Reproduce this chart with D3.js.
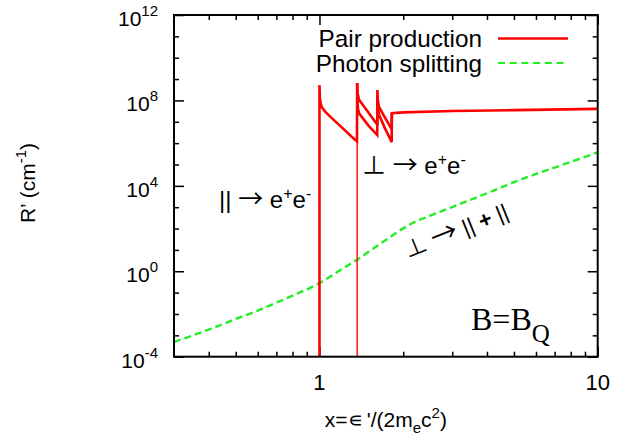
<!DOCTYPE html>
<html>
<head>
<meta charset="utf-8">
<script src="https://cdn.jsdelivr.net/npm/d3@7"></script>
<style>
  body { margin: 0; background: #fff; }
  svg { display: block; }
  text { font-family: "Liberation Sans", Arial, Helvetica, sans-serif; fill: #000; }
</style>
</head>
<body>
<svg id="chart" width="630" height="439"></svg>
<script>
// Pair production rate, parallel polarisation (x = photon energy / 2mc^2, R' in cm^-1)
const parX = [1.000, 1.000, 1.003, 1.010, 1.020, 1.048, 1.10, 1.20, 1.30, 1.364,
              1.366, 1.370, 1.389, 1.45, 1.60, 1.613,
              1.615, 1.620, 1.635, 1.72, 1.818,
              1.82, 2.0, 3.0, 5.0, 10.0];
const parR = [1e-6, 5.2e8, 1.4e8, 7.1e7, 4.8e7, 3.0e7, 1.6e7, 5.6e6, 2.1e6, 1.2e6,
              6.6e8, 2.2e8, 1.05e8, 4.9e7, 8.5e6, 7.9e6,
              3.1e8, 1.1e8, 5.1e7, 1.55e7, 4.5e6,
              2.5e7, 2.75e7, 3.2e7, 3.5e7, 4.0e7];

// Pair production rate, perpendicular polarisation
const perpX = [1.366, 1.366, 1.369, 1.375, 1.39, 1.50, 1.613,
               1.615, 1.620, 1.640, 1.72, 1.818, 1.82];
const perpR = [1e-6, 6.6e8, 1.0e8, 4.0e7, 2.4e7, 6.6e6, 2.4e6,
               1.6e8, 5.0e7, 2.0e7, 4.9e6, 1.12e6, 2.5e7];

// Photon splitting rate
const splitX = [0.3, 0.4, 0.5, 0.6, 0.7, 0.8, 1.0, 1.2, 1.366, 1.6, 1.8,
                2.0, 2.2, 2.5, 3.0, 4.0, 5.0, 6.0, 7.0, 8.0, 10.0];
const splitR = [4.9e-4, 1.86e-3, 5.8e-3, 1.45e-2, 3.4e-2, 7.2e-2, 0.28, 1.23, 3.5, 14.5, 41,
                102, 204, 400, 1.02e3, 4.5e3, 1.48e4, 3.6e4, 7.2e4, 1.32e5, 3.7e5];

// Axis ticks
const xMajorTicks = [1, 10];
const xMajorLabels = ["1", "10"];
const xMinorTicks = [0.4, 0.5, 0.6, 0.7, 0.8, 0.9, 2, 3, 4, 5, 6, 7, 8, 9];
const yMajorExponents = [-4, 0, 4, 8, 12];
const yMinorExponents = [-3, -2, -1, 1, 2, 3, 5, 6, 7, 9, 10, 11];

const legendLabels = ["Pair production", "Photon splitting"];

const plot = { left: 174, right: 597.7, top: 15, bottom: 356.7 };
const red = "#ff0000", green = "#22ee22";
const symbolFont = "'Noto Sans CJK JP', 'DejaVu Sans', sans-serif";

const svg = d3.select("#chart");
const x = d3.scaleLog().domain([0.3, 10]).range([plot.left, plot.right]);
const y = d3.scaleLog().domain([1e-4, 1e12]).range([plot.bottom, plot.top]);

svg.append("defs").append("clipPath").attr("id", "plotClip")
  .append("rect")
  .attr("x", plot.left).attr("y", plot.top)
  .attr("width", plot.right - plot.left).attr("height", plot.bottom - plot.top);

// ---- ticks (inward on all four sides) ----
function tickAxis(axisFn, scale, values, size, transform) {
  const g = svg.append("g").attr("transform", transform)
    .call(axisFn(scale).tickValues(values).tickSize(-size).tickSizeOuter(0).tickFormat(""));
  g.select(".domain").remove();
  g.selectAll(".tick line").attr("stroke", "#000").attr("stroke-width", 1.5);
}
const yMajor = yMajorExponents.map(e => Math.pow(10, e));
const yMinor = yMinorExponents.map(e => Math.pow(10, e));
tickAxis(d3.axisBottom, x, xMajorTicks, 10, `translate(0,${plot.bottom})`);
tickAxis(d3.axisBottom, x, xMinorTicks, 5, `translate(0,${plot.bottom})`);
tickAxis(d3.axisTop, x, xMajorTicks, 10, `translate(0,${plot.top})`);
tickAxis(d3.axisTop, x, xMinorTicks, 5, `translate(0,${plot.top})`);
tickAxis(d3.axisLeft, y, yMajor, 10, `translate(${plot.left},0)`);
tickAxis(d3.axisLeft, y, yMinor, 5, `translate(${plot.left},0)`);
tickAxis(d3.axisRight, y, yMajor, 10, `translate(${plot.right},0)`);
tickAxis(d3.axisRight, y, yMinor, 5, `translate(${plot.right},0)`);

// ---- data curves ----
const lineGen = d3.line().x(d => x(d[0])).y(d => y(d[1]));
const curves = svg.append("g").attr("clip-path", "url(#plotClip)");

const splitPts = d3.zip(splitX, splitR);
curves.append("path")
  .attr("d", d3.line().x(d => x(d[0])).y(d => y(d[1])).curve(d3.curveMonotoneX)(splitPts))
  .attr("fill", "none").attr("stroke", green).attr("stroke-width", 2.4)
  .attr("stroke-dasharray", "7,4");

const parPts = d3.zip(parX, parR);
curves.append("path").attr("d", lineGen(parPts))
  .attr("fill", "none").attr("stroke", red).attr("stroke-width", 2.6);

const perpPts = d3.zip(perpX, perpR);
// threshold rise of the perpendicular mode
curves.append("path").attr("d", lineGen(perpPts.slice(0, 2)))
  .attr("fill", "none").attr("stroke", red).attr("stroke-width", 1.4);
curves.append("path").attr("d", lineGen(perpPts.slice(1)))
  .attr("fill", "none").attr("stroke", red).attr("stroke-width", 2.6);

// ---- frame ----
svg.append("rect")
  .attr("x", plot.left).attr("y", plot.top)
  .attr("width", plot.right - plot.left).attr("height", plot.bottom - plot.top)
  .attr("fill", "none").attr("stroke", "#000").attr("stroke-width", 2);

// ---- tick labels ----
svg.append("g").selectAll("text").data(xMajorTicks).join("text")
  .attr("x", d => x(d)).attr("y", 390)
  .attr("text-anchor", "middle").attr("font-size", 22)
  .text((d, i) => xMajorLabels[i]);

const yl = svg.append("g").selectAll("text").data(yMajorExponents).join("text")
  .attr("x", 158).attr("y", d => y(Math.pow(10, d)) + 11)
  .attr("text-anchor", "end").attr("font-size", 21);
yl.append("tspan").text("10");
yl.append("tspan").attr("dy", -10).attr("font-size", 15).text(d => String(d));

// ---- axis titles ----
const xt = svg.append("text").attr("x", (plot.left + plot.right) / 2).attr("y", 427)
  .attr("text-anchor", "middle").attr("font-size", 21);
xt.append("tspan").text("x=\u220A\u2009'/(2m");
xt.append("tspan").attr("dy", 6).attr("font-size", 15).text("e");
xt.append("tspan").attr("dy", -6).text("c");
xt.append("tspan").attr("dy", -9).attr("font-size", 15).text("2");
xt.append("tspan").attr("dy", 9).text(")");

const ytl = svg.append("text").attr("transform", "translate(35,183) rotate(-90)")
  .attr("text-anchor", "middle").attr("font-size", 21);
ytl.append("tspan").text("R\u2019 (cm");
ytl.append("tspan").attr("dy", -9).attr("font-size", 15).text("-1");
ytl.append("tspan").attr("dy", 9).text(")");

// ---- legend ----
const legendY = [47, 72];
const legendLineY = [38.5, 63];
svg.append("g").selectAll("text").data(legendLabels).join("text")
  .attr("x", 482).attr("y", (d, i) => legendY[i])
  .attr("text-anchor", "end").attr("font-size", 24.3)
  .text(d => d);
svg.append("line").attr("x1", 498).attr("x2", 568).attr("y1", legendLineY[0]).attr("y2", legendLineY[0])
  .attr("stroke", red).attr("stroke-width", 2.6);
svg.append("line").attr("x1", 498).attr("x2", 568).attr("y1", legendLineY[1]).attr("y2", legendLineY[1])
  .attr("stroke", green).attr("stroke-width", 2).attr("stroke-dasharray", "7,4.7");

// ---- annotations ----
function annot(tx, ty, parts, size, rot) {
  const t = svg.append("text").attr("font-size", size)
    .attr("transform", `translate(${tx},${ty})` + (rot ? ` rotate(${rot})` : ""));
  parts.forEach(p => {
    const s = t.append("tspan").text(p.t);
    if (p.dy) s.attr("dy", p.dy);
    if (p.fs) s.attr("font-size", p.fs);
    if (p.fw) s.attr("font-weight", p.fw);
    if (p.sym) s.style("font-family", symbolFont);
  });
  return t;
}
const arrowParts = [
  { t: " " }, { t: "\u2192", sym: true, fs: 25 }, { t: " e" },
  { t: "+", dy: -9, fs: 16 }, { t: "e", dy: 9 }, { t: "-", dy: -9, fs: 16 }
];
annot(219, 208, [{ t: "||" }].concat(arrowParts), 24);
annot(362, 174, [{ t: "\u22A5", sym: true, fs: 24 }].concat(arrowParts), 24);
annot(408, 259, [{ t: "\u22A5", sym: true, fs: 23 }, { t: " " }, { t: "\u2192", sym: true, fs: 27 },
                 { t: " || " }, { t: "+", fw: "bold" }, { t: " ||" }], 22, -22);

const bq = svg.append("text").attr("x", 471).attr("y", 330)
  .style("font-family", "'Liberation Serif', 'Times New Roman', serif").attr("font-size", 32);
bq.append("tspan").text("B=B");
bq.append("tspan").attr("dy", 12).attr("font-size", 25).text("Q");
</script>
</body>
</html>
